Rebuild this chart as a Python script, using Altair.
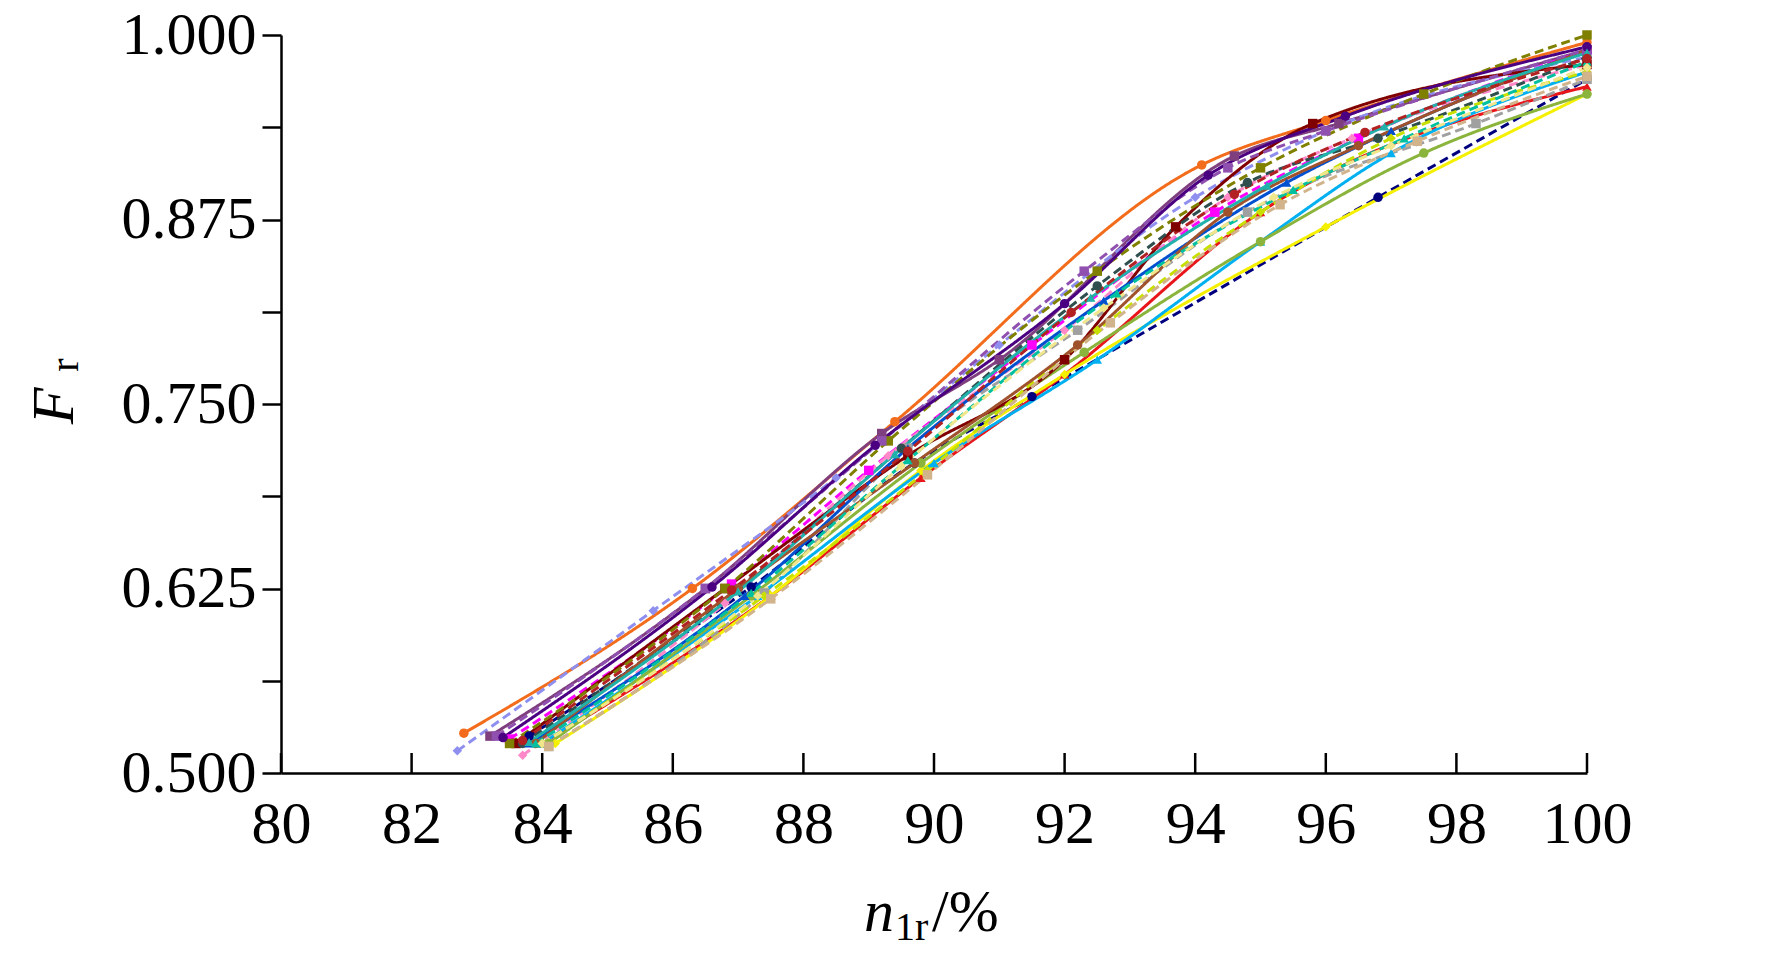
import altair as alt
import pandas as pd

# series: name, color, dashed, marker, x values, y values
names = [f"s{i}" for i in range(1, 25)]
colors = ["#f26c1b", "#7f3f7f", "#00007f", "#e8161b", "#f5f000", "#ff00ff",
          "#8f8ff0", "#ff88c8", "#a0a0a0", "#00b0f0", "#8ab43c", "#800000",
          "#2f4f4f", "#808000", "#0050d0", "#c8e000", "#a0522d", "#9050b0",
          "#00c0a0", "#f0e68c", "#4b0082", "#d2b48c", "#20b2aa", "#b22222"]
dashed = [False, False, True, False, False, True, True, True, True, False,
          False, False, True, True, False, True, False, True,
          True, True, False, True, False, True]
shapes = ["circle", "square", "circle", "triangle-up", "diamond", "square",
          "diamond", "diamond", "square", "triangle-up", "circle", "square",
          "circle", "square", "triangle-up", "diamond", "circle", "square",
          "triangle-up", "diamond", "circle", "square", "triangle-up", "circle"]
xs = [
    [82.8, 86.3, 89.4, 94.1, 96.0, 100],
    [83.2, 86.5, 89.2, 91.0, 94.6, 96.2, 100],
    [83.8, 87.2, 89.7, 91.5, 96.8, 100],
    [84.0, 87.5, 89.8, 92.0, 95.0, 100],
    [84.2, 87.5, 89.8, 92.0, 96.0, 100],
    [83.5, 86.9, 89.0, 91.5, 94.3, 96.5, 100],
    [82.7, 85.7, 88.5, 91.0, 94.0, 96.0, 100],
    [83.7, 86.8, 89.3, 92.0, 94.5, 96.4, 100],
    [84.1, 87.4, 89.6, 92.2, 94.8, 98.3, 100],
    [84.0, 87.3, 90.0, 92.5, 95.0, 97.0, 100],
    [84.1, 87.2, 89.8, 92.3, 95.0, 97.5, 100],
    [83.6, 86.8, 89.6, 92.0, 93.7, 95.8, 100],
    [83.7, 87.0, 89.5, 92.5, 94.8, 96.8, 100],
    [83.5, 86.8, 89.3, 92.5, 95.0, 97.5, 100],
    [83.8, 87.1, 89.6, 92.6, 95.4, 97.0, 100],
    [84.0, 87.4, 89.9, 92.5, 95.0, 97.0, 100],
    [83.9, 87.0, 89.7, 92.2, 94.5, 96.5, 100],
    [83.3, 86.5, 89.2, 92.3, 94.5, 96.0, 100],
    [83.9, 87.2, 89.6, 92.8, 95.5, 97.2, 100],
    [84.0, 87.3, 89.5, 92.6, 95.2, 97.0, 100],
    [83.4, 86.6, 89.1, 92.0, 94.2, 96.3, 100],
    [84.1, 87.5, 89.9, 92.7, 95.3, 97.4, 100],
    [83.8, 87.0, 89.4, 92.4, 95.1, 96.9, 100],
    [83.7, 86.9, 89.6, 92.1, 94.6, 96.6, 100],
]
ys = [
    [0.527, 0.625, 0.738, 0.912, 0.942, 0.995],
    [0.525, 0.625, 0.730, 0.780, 0.918, 0.940, 0.990],
    [0.525, 0.626, 0.710, 0.755, 0.890, 0.970],
    [0.520, 0.620, 0.700, 0.770, 0.880, 0.965],
    [0.520, 0.620, 0.705, 0.770, 0.870, 0.960],
    [0.523, 0.628, 0.705, 0.790, 0.880, 0.930, 0.990],
    [0.515, 0.610, 0.700, 0.790, 0.890, 0.935, 0.985],
    [0.512, 0.615, 0.715, 0.800, 0.890, 0.930, 0.980],
    [0.518, 0.622, 0.720, 0.800, 0.880, 0.940, 0.970],
    [0.520, 0.620, 0.710, 0.780, 0.860, 0.920, 0.975],
    [0.520, 0.620, 0.710, 0.785, 0.860, 0.920, 0.960],
    [0.520, 0.625, 0.715, 0.780, 0.870, 0.940, 0.980],
    [0.520, 0.625, 0.720, 0.830, 0.900, 0.930, 0.985],
    [0.520, 0.625, 0.725, 0.840, 0.910, 0.960, 1.000],
    [0.520, 0.620, 0.720, 0.820, 0.900, 0.935, 0.990],
    [0.520, 0.620, 0.705, 0.800, 0.880, 0.930, 0.975],
    [0.520, 0.625, 0.710, 0.790, 0.880, 0.925, 0.990],
    [0.525, 0.625, 0.725, 0.840, 0.910, 0.935, 0.990],
    [0.520, 0.622, 0.712, 0.825, 0.895, 0.930, 0.982],
    [0.520, 0.620, 0.708, 0.815, 0.890, 0.925, 0.978],
    [0.524, 0.626, 0.722, 0.818, 0.905, 0.945, 0.992],
    [0.518, 0.618, 0.702, 0.805, 0.885, 0.928, 0.972],
    [0.521, 0.623, 0.716, 0.822, 0.898, 0.938, 0.988],
    [0.522, 0.624, 0.718, 0.812, 0.892, 0.934, 0.984],
]
x_ticks = list(range(80, 101, 2))

rows = []
for n, c, d, s, xv, yv in zip(names, colors, dashed, shapes, xs, ys):
    for x, y in zip(xv, yv):
        rows.append({"name": n, "x": x, "y": y, "dash": "d" if d else "s", "shape": s})
df = pd.DataFrame(rows)

font = "Liberation Serif"
fs = 60
W, H = 1306, 738
xscale = alt.Scale(domain=[80, 100], nice=False)
yscale = alt.Scale(domain=[0.5, 1.0], nice=False, zero=False)
color = alt.Color("name:N", scale=alt.Scale(domain=names, range=colors), legend=None)

xaxis = alt.Axis(values=x_ticks, title=None, grid=False, ticks=False, format="d",
                 labelFontSize=fs, labelFont=font, labelPadding=22, domainColor="black",
                 labelColor="black", domainWidth=2.5, labelFlush=False, labelOverlap=False)
yaxis = alt.Axis(values=[0.5 + 0.0625 * i for i in range(9)], title=None, grid=False,
                 tickSize=19, labelFontSize=fs, labelFont=font, format=".3f",
                 labelExpr="(round(datum.value*1000) % 125 == 0) ? datum.label : ''",
                 domainColor="black", tickColor="black", labelColor="black",
                 domainWidth=2.5, tickWidth=2.5, labelPadding=6, labelFlush=False,
                 labelOverlap=False)

base = alt.Chart(df).encode(
    x=alt.X("x:Q", scale=xscale, axis=xaxis),
    y=alt.Y("y:Q", scale=yscale, axis=yaxis),
    color=color,
)
lines = base.mark_line(interpolate="monotone", strokeWidth=3).encode(
    detail="name:N",
    strokeDash=alt.StrokeDash("dash:N", scale=alt.Scale(domain=["s", "d"], range=[[1, 0], [9, 5]]), legend=None),
)
points = base.mark_point(filled=True, size=90, opacity=1).encode(
    shape=alt.Shape("shape:N", legend=None,
                    scale=alt.Scale(domain=["circle", "square", "diamond", "triangle-up"],
                                    range=["circle", "square", "diamond", "triangle-up"])))

xticks = alt.Chart(pd.DataFrame({"x": x_ticks})).mark_rule(color="black", strokeWidth=2.5).encode(
    x=alt.X("x:Q", scale=xscale), y=alt.value(H), y2=alt.value(H - 20))

xt = alt.Chart(pd.DataFrame({"t": ["n"]})).mark_text(font=font, fontSize=fs, fontStyle="italic", align="right").encode(
    x=alt.value(613), y=alt.value(878), text="t:N")
xt2 = alt.Chart(pd.DataFrame({"t": ["1r"]})).mark_text(font=font, fontSize=40, align="left").encode(
    x=alt.value(614), y=alt.value(893), text="t:N")
xt3 = alt.Chart(pd.DataFrame({"t": ["/%"]})).mark_text(font=font, fontSize=fs, align="left").encode(
    x=alt.value(651), y=alt.value(878), text="t:N")
yt = alt.Chart(pd.DataFrame({"t": ["F"]})).mark_text(font=font, fontSize=fs, fontStyle="italic", angle=270).encode(
    x=alt.value(-226), y=alt.value(371), text="t:N")
yt2 = alt.Chart(pd.DataFrame({"t": ["r"]})).mark_text(font=font, fontSize=40, angle=270).encode(
    x=alt.value(-215), y=alt.value(330), text="t:N")

chart = (lines + points + xticks + xt + xt2 + xt3 + yt + yt2).properties(
    width=W, height=H,
    autosize=alt.AutoSizeParams(type="none"),
    padding={"left": 273, "top": 27, "right": 170, "bottom": 170},
    background="white",
).configure_view(stroke=None)

chart.save("out.html", embed_options={"renderer": "svg", "actions": False})
